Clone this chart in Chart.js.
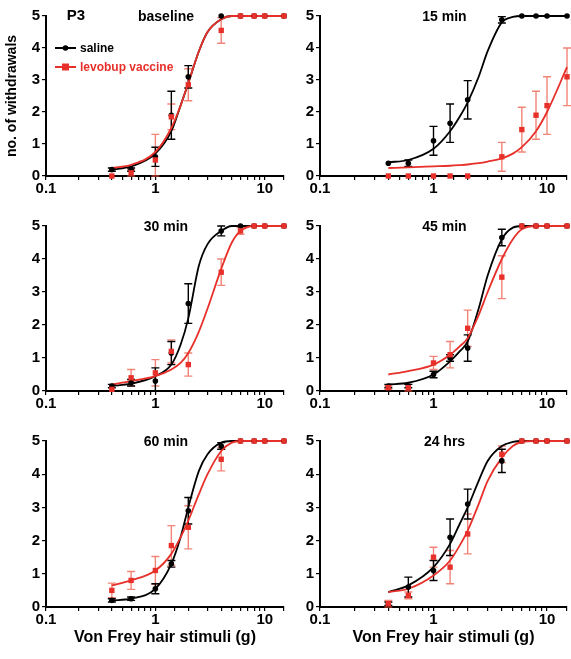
<!DOCTYPE html>
<html>
<head>
<meta charset="utf-8">
<script src="https://cdn.jsdelivr.net/npm/chart.js@4.4.1/dist/chart.umd.min.js"></script>
<style>
  body { margin: 0; background: #fff; }
  #wrap { position: relative; width: 571px; height: 659px; overflow: hidden; }
  #wrap canvas { position: absolute; }
</style>
</head>
<body>
<div id="wrap">
  <canvas id="p0"></canvas>
  <canvas id="p1"></canvas>
  <canvas id="p2"></canvas>
  <canvas id="p3"></canvas>
  <canvas id="p4"></canvas>
  <canvas id="p5"></canvas>
</div>
<script>
// stimuli (g) and the x positions used for the fitted curves
const stimuli = [0.4, 0.6, 1, 1.4, 2, 4, 6, 8, 10, 15];
const fitX = [0.4, 0.6, 1, 1.4, 1.7, 2, 2.5, 3, 4, 5, 6, 8, 10, 15];

const panelTitles = ['baseline', '15 min', '30 min', '45 min', '60 min', '24 hrs'];
const seriesNames = ['saline', 'levobup vaccine'];
const xTickLabels = [0.1, 1, 10];
const yTicks = [0, 1, 2, 3, 4, 5];

// saline: mean and SEM per panel
const salineMean = [
  [0.2, 0.2, 0.6, 1.9, 3.1, 5, 5, 5, 5, 5],
  [0.4, 0.4, 1.1, 1.65, 2.38, 4.88, 5, 5, 5, 5],
  [0.15, 0.25, 0.3, 1.15, 2.65, 4.85, 5, 5, 5, 5],
  [0.15, 0.15, 0.5, 1.0, 1.3, 4.65, 5, 5, 5, 5],
  [0.2, 0.25, 0.55, 1.3, 2.9, 4.85, 5, 5, 5, 5],
  [0.1, 0.6, 1.1, 2.1, 3.1, 4.4, 5, 5, 5, 5]
];
const salineSem = [
  [0.05, 0.05, 0.3, 0.75, 0.35, 0, 0, 0, 0, 0],
  [0, 0.1, 0.45, 0.6, 0.6, 0.1, 0, 0, 0, 0],
  [0.05, 0.1, 0.4, 0.35, 0.6, 0.15, 0, 0, 0, 0],
  [0.05, 0.05, 0.1, 0.1, 0.4, 0.25, 0, 0, 0, 0],
  [0.05, 0.05, 0.15, 0.1, 0.4, 0.1, 0, 0, 0, 0],
  [0.05, 0.3, 0.3, 0.55, 0.45, 0.35, 0, 0, 0, 0]
];

// levobupivacaine vaccine: mean and SEM per panel
const vaccineMean = [
  [0, 0.1, 0.5, 1.85, 2.85, 4.55, 5, 5, 5, 5],
  [0, 0, 0, 0, 0, 0.6, 1.45, 1.9, 2.2, 3.1],
  [0.05, 0.4, 0.55, 1.2, 0.8, 3.6, 4.85, 5, 5, 5],
  [0.1, 0.1, 0.85, 1.1, 1.9, 3.45, 5, 5, 5, 5],
  [0.5, 0.8, 1.1, 1.85, 2.4, 4.45, 5, 5, 5, 5],
  [0.1, 0.35, 1.5, 1.2, 2.2, 4.6, 5, 5, 5, 5]
];
const vaccineSem = [
  [0, 0.1, 0.8, 0.4, 0.5, 0.4, 0, 0, 0, 0],
  [0, 0, 0, 0, 0, 0.45, 0.7, 0.75, 0.9, 0.9],
  [0, 0.25, 0.4, 0.35, 0.35, 0.4, 0.1, 0, 0, 0],
  [0.05, 0.1, 0.2, 0.4, 0.55, 0.65, 0, 0, 0, 0],
  [0.22, 0.27, 0.42, 0.6, 0.65, 0.35, 0, 0, 0, 0],
  [0.1, 0.1, 0.3, 0.5, 0.6, 0.25, 0, 0, 0, 0]
];

// fitted sigmoid curves at fitX
const salineFit = [
  [0.2, 0.3, 0.7, 1.4, 2.2, 2.9, 3.9, 4.5, 4.9, 5, 5, 5, 5, 5],
  [0.43, 0.5, 0.85, 1.4, 1.85, 2.3, 3.1, 3.9, 4.8, 4.97, 5, 5, 5, 5],
  [0.15, 0.22, 0.45, 0.8, 1.4, 2.2, 3.8, 4.45, 4.85, 5, 5, 5, 5, 5],
  [0.2, 0.25, 0.5, 0.9, 1.2, 1.5, 2.5, 3.5, 4.6, 4.95, 5, 5, 5, 5],
  [0.2, 0.25, 0.55, 1.3, 2.1, 3.0, 4.1, 4.6, 4.95, 5, 5, 5, 5, 5],
  [0.45, 0.65, 1.2, 1.9, 2.5, 3.0, 3.8, 4.4, 4.85, 4.97, 5, 5, 5, 5]
];
const vaccineFit = [
  [0.25, 0.35, 0.75, 1.5, 2.2, 2.9, 3.9, 4.5, 4.9, 5, 5, 5, 5, 5],
  [0.25, 0.27, 0.3, 0.32, 0.34, 0.36, 0.4, 0.45, 0.55, 0.7, 0.9, 1.4, 2.0, 3.4],
  [0.2, 0.3, 0.45, 0.65, 0.85, 1.15, 1.8, 2.5, 3.7, 4.5, 4.85, 5, 5, 5],
  [0.5, 0.6, 0.8, 1.1, 1.35, 1.6, 2.3, 3.0, 4.0, 4.6, 4.9, 5, 5, 5],
  [0.65, 0.8, 1.1, 1.6, 2.1, 2.6, 3.4, 4.0, 4.7, 4.95, 5, 5, 5, 5],
  [0.45, 0.55, 0.95, 1.4, 1.85, 2.3, 3.1, 3.8, 4.5, 4.85, 4.97, 5, 5, 5]
];

const BLACK = '#000000';
const RED = '#e8302a';
const RED_ERR = 'rgba(235, 80, 60, 0.7)';
const FONT = 'Arial, "Liberation Sans", sans-serif';

Chart.defaults.font.family = FONT;
Chart.defaults.font.size = 12;
Chart.defaults.font.weight = 'bold';
Chart.defaults.color = '#000';

// vertical error bars with caps
const errorBars = {
  id: 'errorBars',
  beforeDatasetsDraw(chart) {
    const ctx = chart.ctx;
    const yScale = chart.scales.y;
    chart.data.datasets.forEach((ds, k) => {
      if (!ds.errors) return;
      const meta = chart.getDatasetMeta(k);
      ctx.save();
      ctx.strokeStyle = ds.errColor;
      ctx.lineWidth = 1.4;
      meta.data.forEach((pt, j) => {
        const e = ds.errors[j];
        if (!e) return;
        const v = ds.data[j].y;
        const top = yScale.getPixelForValue(Math.min(5, v + e));
        const bot = yScale.getPixelForValue(Math.max(0, v - e));
        ctx.beginPath();
        ctx.moveTo(pt.x, top); ctx.lineTo(pt.x, bot);
        ctx.moveTo(pt.x - 4, top); ctx.lineTo(pt.x + 4, top);
        ctx.moveTo(pt.x - 4, bot); ctx.lineTo(pt.x + 4, bot);
        ctx.stroke();
      });
      ctx.restore();
    });
  }
};

// panel title inside the plot, plus legend / panel tag on the first one
const panelText = {
  id: 'panelText',
  afterDraw(chart, args, opts) {
    const ctx = chart.ctx;
    const area = chart.chartArea;
    ctx.save();
    ctx.fillStyle = '#000';
    ctx.textBaseline = 'middle';
    ctx.textAlign = 'center';
    ctx.font = 'bold 14px ' + FONT;
    ctx.fillText(opts.title, (area.left + area.right) / 2 + 1, area.top + 1);
    if (opts.showLegend) {
      ctx.font = 'bold 15px ' + FONT;
      ctx.fillText('P3', 76, 16);
      const rows = [
        { name: seriesNames[0], color: BLACK, y: 48, style: 'circle' },
        { name: seriesNames[1], color: RED, y: 67, style: 'rect' }
      ];
      ctx.font = 'bold 12px ' + FONT;
      ctx.textAlign = 'left';
      rows.forEach(r => {
        ctx.strokeStyle = r.color;
        ctx.fillStyle = r.color;
        ctx.lineWidth = 2;
        ctx.beginPath();
        ctx.moveTo(55, r.y); ctx.lineTo(76, r.y);
        ctx.stroke();
        if (r.style === 'circle') {
          ctx.beginPath(); ctx.arc(65.5, r.y, 2.8, 0, Math.PI * 2); ctx.fill();
        } else {
          ctx.fillRect(62, r.y - 3.5, 7, 7);
        }
        ctx.fillText(r.name, 80, r.y + 1);
      });
    }
    ctx.restore();
  }
};

// layout of the 3 x 2 grid
const colLeft = [0, 288];
const colWidth = [288, 283];
const yAxisWidth = [46, 32];
const rowTop = [0, 215, 430];
const rowHeight = [215, 215, 229];
const padTop = [16, 10, 10];
const padBottom = [0, 0, 12];
const xAxisHeight = [39, 39, 40];

function makePanel(i) {
  const col = i % 2;
  const row = Math.floor(i / 2);
  const canvas = document.getElementById('p' + i);
  canvas.width = colWidth[col];
  canvas.height = rowHeight[row];
  canvas.style.left = colLeft[col] + 'px';
  canvas.style.top = rowTop[row] + 'px';

  const pts = (ys) => stimuli.map((x, j) => ({ x: x, y: ys[j] }));
  const fit = (ys) => fitX.map((x, j) => ({ x: x, y: ys[j] }));

  new Chart(canvas.getContext('2d'), {
    type: 'scatter',
    data: {
      datasets: [
        {
          label: seriesNames[1], data: pts(vaccineMean[i]), errors: vaccineSem[i], errColor: RED_ERR,
          pointStyle: 'rect', pointRadius: 3.8, backgroundColor: RED, borderColor: RED, borderWidth: 0, clip: false
        },
        {
          label: seriesNames[0], data: pts(salineMean[i]), errors: salineSem[i], errColor: BLACK,
          pointStyle: 'circle', pointRadius: 2.8, backgroundColor: BLACK, borderColor: BLACK, borderWidth: 0, clip: false
        },
        {
          type: 'line', data: fit(vaccineFit[i]), borderColor: RED, borderWidth: 1.8,
          pointRadius: 0, cubicInterpolationMode: 'monotone', fill: false, clip: false
        },
        {
          type: 'line', data: fit(salineFit[i]), borderColor: BLACK, borderWidth: 1.8,
          pointRadius: 0, cubicInterpolationMode: 'monotone', fill: false, clip: false
        }
      ]
    },
    options: {
      responsive: false,
      animation: false,
      events: [],
      layout: { padding: { top: padTop[row], right: 0, left: 0, bottom: padBottom[row] } },
      plugins: {
        legend: { display: false },
        tooltip: { enabled: false },
        panelText: { title: panelTitles[i], showLegend: i === 0 }
      },
      scales: {
        x: {
          type: 'logarithmic',
          min: 0.1,
          max: 15,
          afterFit(scale) { scale.height = xAxisHeight[row]; },
          border: { color: '#000', width: 2 },
          grid: { drawOnChartArea: false, drawTicks: true, tickLength: 4, color: '#000', lineWidth: 1.2 },
          ticks: {
            autoSkip: false,
            maxRotation: 0,
            padding: 0,
            font: { size: 15, weight: 'bold' },
            callback: (v) => {
              const t = xTickLabels.find(l => Math.abs(l - v) < 1e-9);
              return t === undefined ? '' : String(t);
            }
          },
          title: {
            display: row === 2,
            text: 'Von Frey hair stimuli (g)',
            font: { size: 16, weight: 'bold' },
            padding: { top: 0, bottom: 0 }
          }
        },
        y: {
          min: 0,
          max: 5,
          afterFit(scale) { scale.width = yAxisWidth[col]; },
          afterBuildTicks(scale) { scale.ticks = yTicks.map(v => ({ value: v })); },
          border: { color: '#000', width: 2 },
          grid: { drawOnChartArea: false, drawTicks: true, tickLength: 4, color: '#000', lineWidth: 1.2 },
          ticks: { padding: 2, font: { size: 15, weight: 'bold' } },
          title: {
            display: i === 0,
            text: 'no. of withdrawals',
            font: { size: 14, weight: 'bold' },
            padding: { top: 4, bottom: 0 }
          }
        }
      }
    },
    plugins: [errorBars, panelText]
  });
}

document.addEventListener('DOMContentLoaded', () => {
  for (let i = 0; i < 6; i++) makePanel(i);
});
</script>
</body>
</html>
